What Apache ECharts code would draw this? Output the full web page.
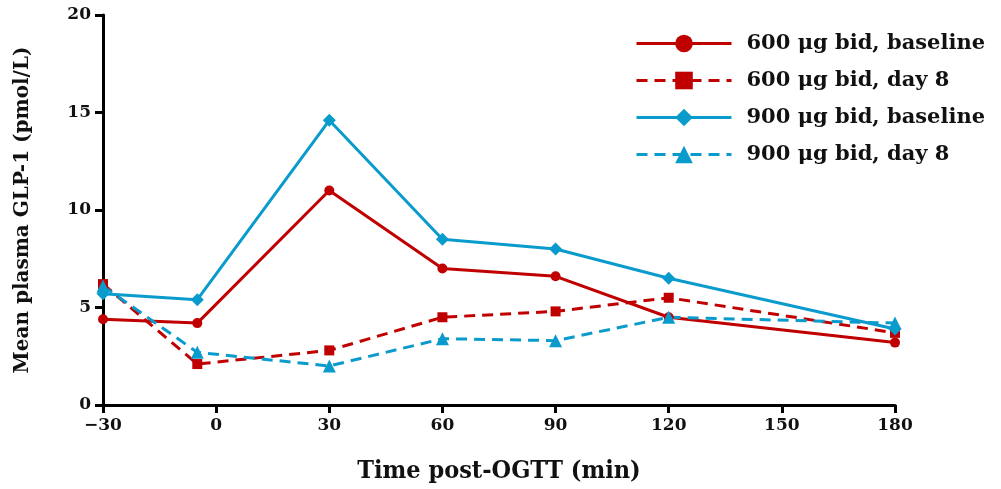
<!DOCTYPE html>
<html><head><meta charset="utf-8">
<script src="https://cdn.jsdelivr.net/npm/echarts@6/dist/echarts.min.js"></script>
<style>html,body{margin:0;padding:0;background:#fff}#c{width:1001px;height:489px}</style>
</head><body><div id="c"></div>
<script>
const times = [-30, -5, 30, 60, 90, 120, 180];
const s600Base = [4.4, 4.2, 11.0, 7.0, 6.6, 4.5, 3.2];
const s600Day8 = [6.2, 2.1, 2.8, 4.5, 4.8, 5.5, 3.7];
const s900Base = [5.7, 5.4, 14.6, 8.5, 8.0, 6.5, 3.9];
const s900Day8 = [6.1, 2.7, 2.0, 3.4, 3.3, 4.5, 4.2];
const names = ['600 μg bid, baseline', '600 μg bid, day 8', '900 μg bid, baseline', '900 μg bid, day 8'];
const RED = '#C00000', BLUE = '#0A9BCD';
const FONT = 'DejaVu Serif';
const pair = arr => times.map((t, i) => [t, arr[i]]);
function mk(name, data, color, dashed, symbol, size) {
  return {
    name, type: 'line', data: pair(data), symbol, symbolSize: size,
    itemStyle: { color }, lineStyle: { color, width: 3, type: dashed ? [11, 7] : 'solid' },
    emphasis: { disabled: true }
  };
}
const chart = echarts.init(document.getElementById('c'));
chart.setOption({
  animation: false,
  textStyle: { fontFamily: FONT },
  grid: { left: 103, right: 106, top: 15, bottom: 82 },
  legend: {
    orient: 'vertical', left: 630, top: 28, itemWidth: 95, itemHeight: 22, itemGap: 16,
    lineStyle: { width: 3 },
    textStyle: { fontFamily: FONT, fontSize: 21, fontWeight: 'bold', color: '#111', padding: [0, 0, 0, 10] },
    data: names
  },
  xAxis: {
    type: 'value', min: -30, max: 180, interval: 30,
    name: 'Time post-OGTT (min)', nameLocation: 'middle', nameGap: 54,
    nameTextStyle: { fontFamily: 'DejaVu Serif Condensed', fontSize: 25, fontWeight: 'bold', color: '#111' },
    axisLine: { onZero: false, lineStyle: { color: '#000', width: 3 } },
    axisTick: { show: true, length: 8, lineStyle: { width: 3, color: '#000' } },
    axisLabel: { fontFamily: FONT, fontSize: 17, fontWeight: 'bold', color: '#111', margin: 12,
      formatter: v => v < 0 ? '\u2212' + Math.abs(v) : String(v) },
    splitLine: { show: false }
  },
  yAxis: {
    type: 'value', min: 0, max: 20, interval: 5,
    name: 'Mean plasma GLP-1 (pmol/L)', nameLocation: 'middle', nameGap: 70, nameRotate: 90,
    nameTextStyle: { fontFamily: FONT, fontSize: 20, fontWeight: 'bold', color: '#111' },
    axisLine: { show: true, onZero: false, lineStyle: { color: '#000', width: 3 } },
    axisTick: { show: true, length: 8, lineStyle: { width: 3, color: '#000' } },
    axisLabel: { fontFamily: FONT, fontSize: 17, fontWeight: 'bold', color: '#111', margin: 12 },
    splitLine: { show: false }
  },
  series: [
    mk(names[0], s600Base, RED, false, 'circle', 10),
    mk(names[1], s600Day8, RED, true, 'rect', 10),
    mk(names[2], s900Base, BLUE, false, 'diamond', 13),
    mk(names[3], s900Day8, BLUE, true, 'triangle', 13)
  ]
});
</script></body></html>
